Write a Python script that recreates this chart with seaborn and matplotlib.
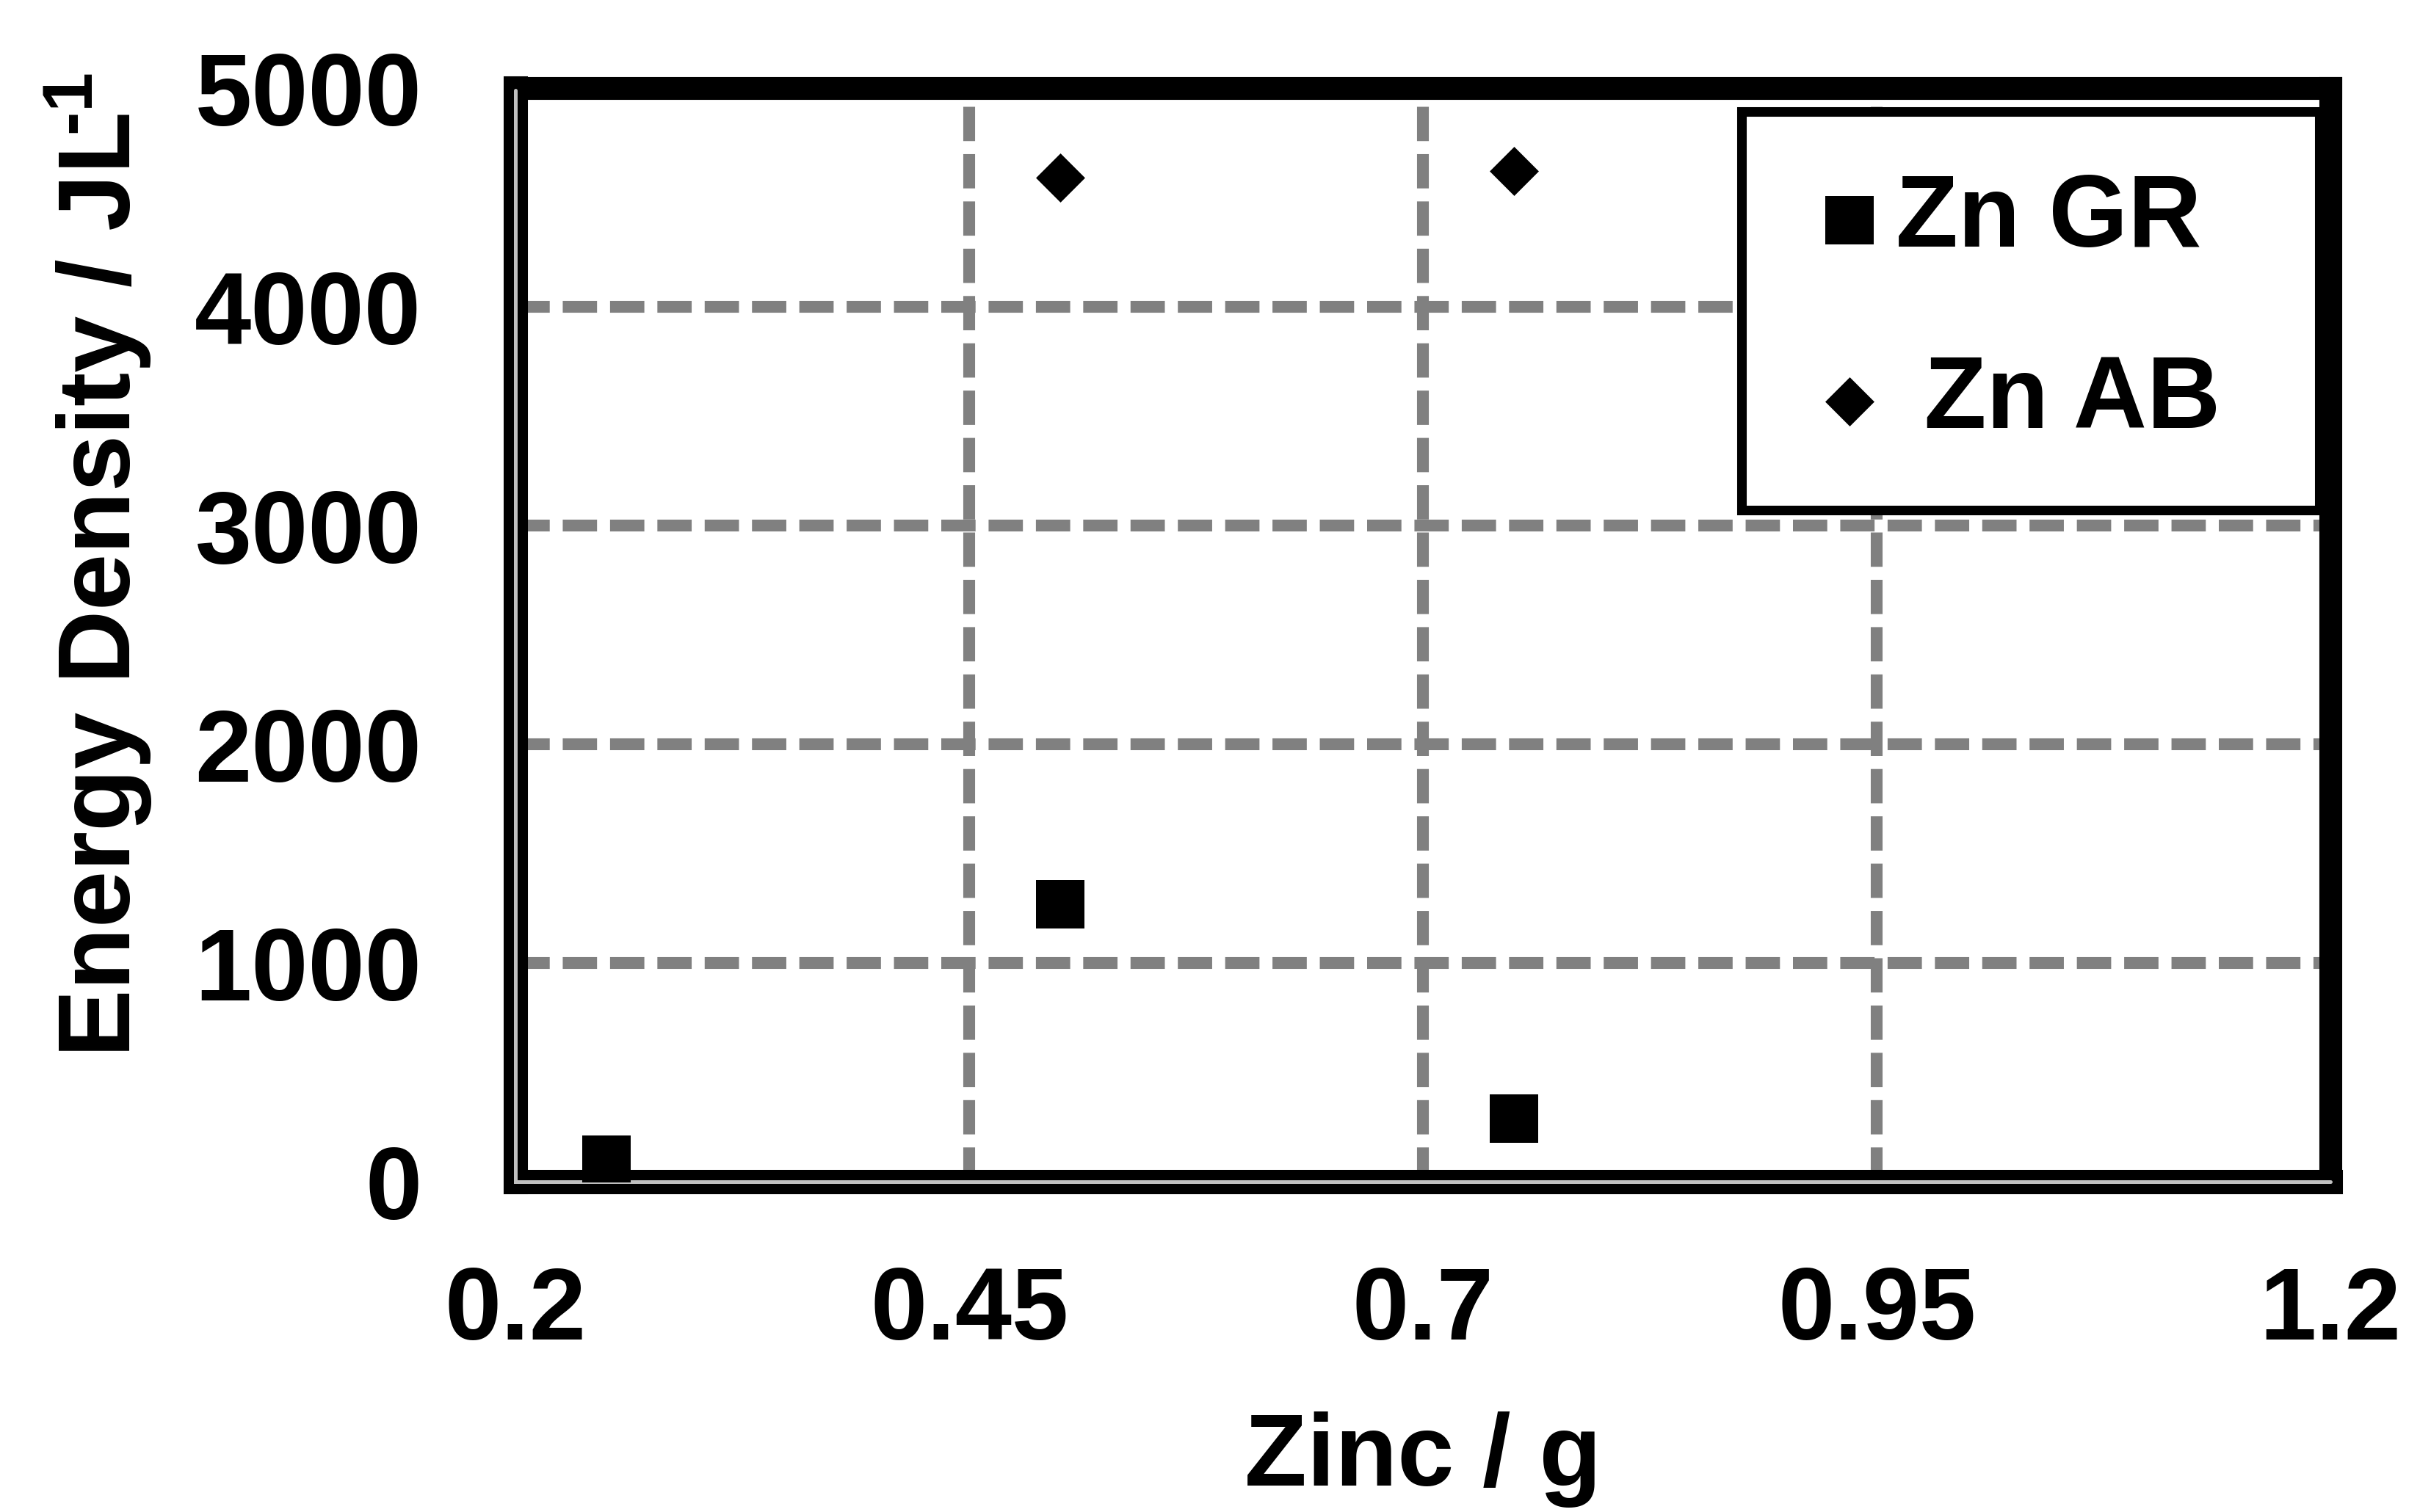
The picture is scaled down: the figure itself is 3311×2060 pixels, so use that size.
import matplotlib
matplotlib.use("Agg")
import matplotlib.pyplot as plt
import pandas as pd
import seaborn as sns

# values
zinc_gr = [0.25, 0.5, 0.75]
energy_gr = [100, 1270, 290]
zinc_ab = [0.5, 0.75]
energy_ab = [4590, 4620]

x_ticks = [0.2, 0.45, 0.7, 0.95, 1.2]
x_tick_labels = ["0.2", "0.45", "0.7", "0.95", "1.2"]
y_ticks = [0, 1000, 2000, 3000, 4000, 5000]

sns.set_theme(style="white")
plt.rcParams["font.family"] = ["Liberation Sans", "DejaVu Sans"]
plt.rcParams["font.weight"] = "bold"
plt.rcParams["text.color"] = "black"
plt.rcParams["mathtext.fontset"] = "custom"
plt.rcParams["mathtext.rm"] = "Liberation Sans:bold"
plt.rcParams["mathtext.bf"] = "Liberation Sans:bold"
plt.rcParams["mathtext.default"] = "bf"

fs = 50

fig = plt.figure(figsize=(16.56, 10.3), dpi=200)
ax = fig.add_axes([0.2120, 0.2184, 0.7464, 0.7233])

gr = pd.DataFrame({"zinc": zinc_gr, "energy": energy_gr})
ab = pd.DataFrame({"zinc": zinc_ab, "energy": energy_ab})
sns.scatterplot(data=gr, x="zinc", y="energy", marker="s", s=570, color="black",
                linewidth=0, label="Zn GR", ax=ax, zorder=4)
sns.scatterplot(data=ab, x="zinc", y="energy", marker="D", s=290, color="black",
                linewidth=0, label=" Zn AB", ax=ax, zorder=4)

ax.set_xlim(0.2, 1.2)
ax.set_ylim(0, 5000)
ax.set_xticks(x_ticks)
ax.set_xticklabels(x_tick_labels)
ax.set_yticks(y_ticks)
ax.tick_params(length=0, labelsize=fs, labelcolor="black")
ax.tick_params(axis="y", pad=46)
ax.tick_params(axis="x", pad=41)
for lab in ax.get_xticklabels() + ax.get_yticklabels():
    lab.set_fontweight("bold")

ax.set_axisbelow(True)
ax.grid(True, color="#808080", linestyle=(0, (2.9, 1.1)), linewidth=5.8)
for gl in ax.get_xgridlines() + ax.get_ygridlines():
    gl.set_dash_capstyle("butt")

for side in ["top", "right"]:
    ax.spines[side].set_linewidth(11.2)
for side in ["left", "bottom"]:
    ax.spines[side].set_linewidth(11.9)
for sp in ax.spines.values():
    sp.set_color("black")
    sp.set_capstyle("projecting")
    sp.set_zorder(3)
# thin light line inside the left/bottom frame
ax.plot([0, 0, 1], [0.998, 0, 0], transform=ax.transAxes, color="#c0c0c0",
        lw=1.8, clip_on=False, zorder=3.5, solid_joinstyle="miter")

ax.set_xlabel("Zinc / g", fontsize=fs, fontweight="bold", color="black", labelpad=25)
ax.set_ylabel(r"Energy Density / JL$^{\!\!\text{-1}}$", fontsize=fs, fontweight="bold",
              color="black")
ax.yaxis.set_label_coords(-0.199, 0.564)

leg = ax.legend(loc="upper left", bbox_to_anchor=(0.6756, 0.6220, 0.3184, 0.3565),
                mode="expand", borderaxespad=0, fontsize=fs, frameon=True,
                fancybox=False, borderpad=0.6, labelspacing=0.84,
                handlelength=0.91, handletextpad=0.0)
leg.get_frame().set_edgecolor("black")
leg.get_frame().set_linewidth(4.7)
leg.get_frame().set_alpha(1)
leg.set_zorder(5)
for t in leg.get_texts():
    t.set_fontweight("bold")
    t.set_color("black")

fig.savefig("out.png", dpi=200, facecolor="white")
